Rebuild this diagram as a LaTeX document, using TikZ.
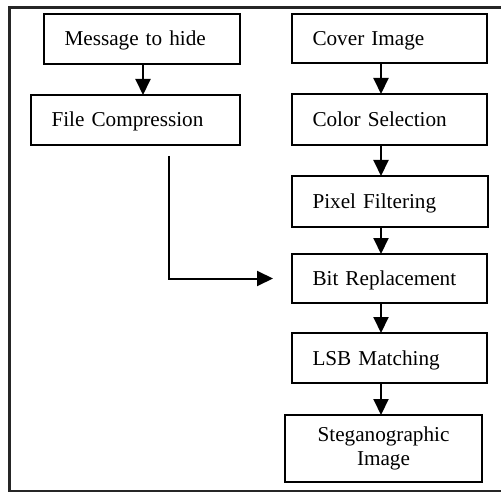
\documentclass[tikz,border=0pt]{standalone}
\usepackage{fontspec}
\setmainfont{Liberation Serif}
\usetikzlibrary{arrows.meta}

\tikzset{
  stagebox/.style={draw, rectangle, line width=1.9bp, outer sep=0pt,
    inner xsep=20.5bp, inner ysep=0pt, align=left,
    text height=14bp, text depth=0pt,
    font=\fontsize{21.2bp}{25bp}\selectfont},
  flow/.style={line width=2bp, -{Triangle[length=16bp,width=15bp]}},
  frame/.style={line width=2.2bp, draw=black!85}
}

\begin{document}
\begin{tikzpicture}[x=1bp, y=-1bp]
  \useasboundingbox (0,0) rectangle (501,493);

  % open outer frame
  \draw[frame] (501,7.5) -- (9.5,7.5) -- (9.5,491) -- (501,491);

  % message branch
  \node[stagebox, text width=155bp, minimum height=50bp] (msg) at (142,39) {Message to hide};
  \node[stagebox, text width=168bp, minimum height=50bp] (file) at (135.5,120) {File Compression};

  % image branch
  \node[stagebox, text width=154bp, minimum height=49bp] (cover) at (389.5,38.5) {Cover Image};
  \node[stagebox, text width=154bp, minimum height=51bp] (color) at (389.5,119.5) {Color Selection};
  \node[stagebox, text width=155bp, minimum height=51bp] (pixel) at (390,201.5) {Pixel Filtering};
  \node[stagebox, text width=154bp, minimum height=49bp] (bit) at (389.5,278.5) {Bit Replacement};
  \node[stagebox, text width=154bp, minimum height=50bp] (lsb) at (389.5,358) {LSB Matching};
  \node[draw, rectangle, line width=1.9bp, outer sep=0pt, align=center,
        minimum width=197bp, minimum height=67bp,
        font=\fontsize{21.2bp}{24bp}\selectfont] (steg) at (383.5,448.5)
        {Steganographic\\Image};

  % arrow columns
  \coordinate (lc) at (143,0);
  \coordinate (rc) at (381,0);

  \draw[flow] (msg.south -| lc) -- (file.north -| lc);
  \draw[flow] (cover.south -| rc) -- (color.north -| rc);
  \draw[flow] (color.south -| rc) -- (pixel.north -| rc);
  \draw[flow] (pixel.south -| rc) -- (bit.north -| rc);
  \draw[flow] (bit.south -| rc) -- (lsb.north -| rc);
  \draw[flow] (lsb.south -| rc) -- (steg.north -| rc);

  % compressed message joins at bit replacement
  \coordinate (joinstart) at (169,156);
  \coordinate (joinend) at ([xshift=-19bp]bit.west);
  \draw[flow] (joinstart) |- (joinend);
\end{tikzpicture}
\end{document}
